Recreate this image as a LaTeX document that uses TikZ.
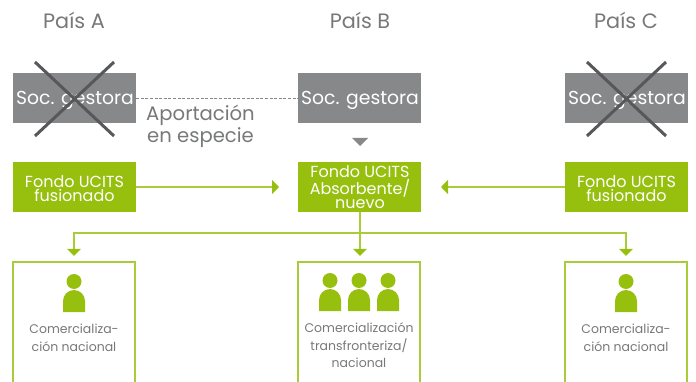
\documentclass[tikz,border=0pt]{standalone}
\usepackage{fontspec}
\setmainfont{Poppins}
\usetikzlibrary{arrows.meta}
\definecolor{grisbox}{HTML}{87888A}
\definecolor{grisx}{HTML}{58585A}
\definecolor{gristxt}{HTML}{77787A}
\definecolor{verde}{HTML}{97C00E}
\definecolor{verdeb}{HTML}{A9CC3A}
\tikzset{
  x=1pt,y=-1pt,
  socbox/.style={fill=grisbox,minimum width=123pt,minimum height=50pt,inner sep=0pt},
  soctxt/.style={text=white,inner sep=0pt,font=\fontsize{18.8}{20}\selectfont},
  fondobox/.style={fill=verde,minimum width=123pt,minimum height=50pt,inner sep=0pt},
  fondotxt/.style={text=white,inner sep=0pt,align=center,font=\fontsize{16}{14.6}\selectfont},
  mercbox/.style={minimum width=122pt,minimum height=130pt,inner sep=0pt},
  boxedge/.style={draw=verdeb,line width=1.6pt},
  pais/.style={text=gristxt,font=\fontsize{20.8}{22}\selectfont},
  etiq/.style={text=gristxt,align=center,font=\fontsize{19.6}{21.5}\selectfont},
  merctxt/.style={text=gristxt,align=center,font=\fontsize{12.5}{17.5}\selectfont},
  flecha/.style={draw=verdeb,line width=1.5pt,-{Triangle[length=7pt,width=14pt,color=verde]}},
  cruz/.style={draw=grisx,line width=3pt},
  guiones/.style={draw=grisbox,line width=0.8pt,dash pattern=on 3pt off 1.6pt},
  persona/.pic={
    \fill[verde] (0,-9.5) circle[radius=7.5];
    \fill[verde] (-11,21) -- (-11,10) arc[start angle=180,end angle=360,radius=11] -- (11,21) -- cycle;
  }
}
\begin{document}
\begin{tikzpicture}
\clip (0,0) rectangle (696,382);
\node[pais] (pa) at (74,20.5) {País A};
\node[pais] (pb) at (360,20.5) {País B};
\node[pais] (pc) at (626,20.5) {País C};
\node[socbox] (sa) at (74.5,98) {};
\node[socbox] (sb) at (359.5,98) {};
\node[socbox] (sc) at (626.5,98) {};
\node[soctxt] (tsa) at (75,100) {Soc. gestora};
\node[soctxt] (tsb) at (360,100) {Soc. gestora};
\node[soctxt] (tsc) at (627,100) {Soc. gestora};
\node[fondobox] (fa) at (74.5,187) {};
\node[fondobox] (fb) at (359.5,187) {};
\node[fondobox] (fc) at (626.5,187) {};
\node[fondotxt] (tfa) at (74.5,188.5) {Fondo UCITS\\fusionado};
\node[fondotxt] (tfb) at (360,187.5) {Fondo UCITS\\Absorbente/\\nuevo};
\node[fondotxt] (tfc) at (626.5,188.5) {Fondo UCITS\\fusionado};
\node[mercbox] (ma) at (74,327) {};
\node[mercbox] (mb) at (359,327) {};
\node[mercbox] (mc) at (626,327) {};
\draw[boxedge] (ma.south west) -- (ma.north west) -- (ma.north east) -- (ma.south east);
\draw[boxedge] (mb.south west) -- (mb.north west) -- (mb.north east) -- (mb.south east);
\draw[boxedge] (mc.south west) -- (mc.north west) -- (mc.north east) -- (mc.south east);
\node[etiq] (ap) at (200.5,126.5) {Aportación\\en especie};
\draw[guiones] (sa) -- (sb);
\coordinate (tipab) at (279,187);
\coordinate (tipcb) at (441,187);
\draw[flecha] (fa) -- (tipab);
\draw[flecha] (fc) -- (tipcb);
\coordinate (rama) at (360,233);
\draw[flecha,shorten >=6pt] (fb.south -| rama) -- (mb.north -| rama);
\draw[flecha,shorten >=6pt] (rama) -| (ma.north);
\draw[flecha,shorten >=6pt] (rama) -| (mc.north);
\fill[grisbox] (352,138) -- (368,138) -- (360,146) -- cycle;
\draw[cruz] (35,62) -- (114,136) (114,62) -- (35,136);
\draw[cruz] (587,62) -- (666,136) (666,62) -- (587,136);
\pic at (74,291) {persona};
\pic at (330,290) {persona};
\pic at (359,290) {persona};
\pic at (388,290) {persona};
\pic at (626,291) {persona};
\node[merctxt] (ta) at (74,338) {Comercializa-\\ción nacional};
\node[merctxt] (tb) at (359,345.5) {Comercialización\\transfronteriza/\\nacional};
\node[merctxt] (tc) at (626,338) {Comercializa-\\ción nacional};
\end{tikzpicture}
\end{document}
